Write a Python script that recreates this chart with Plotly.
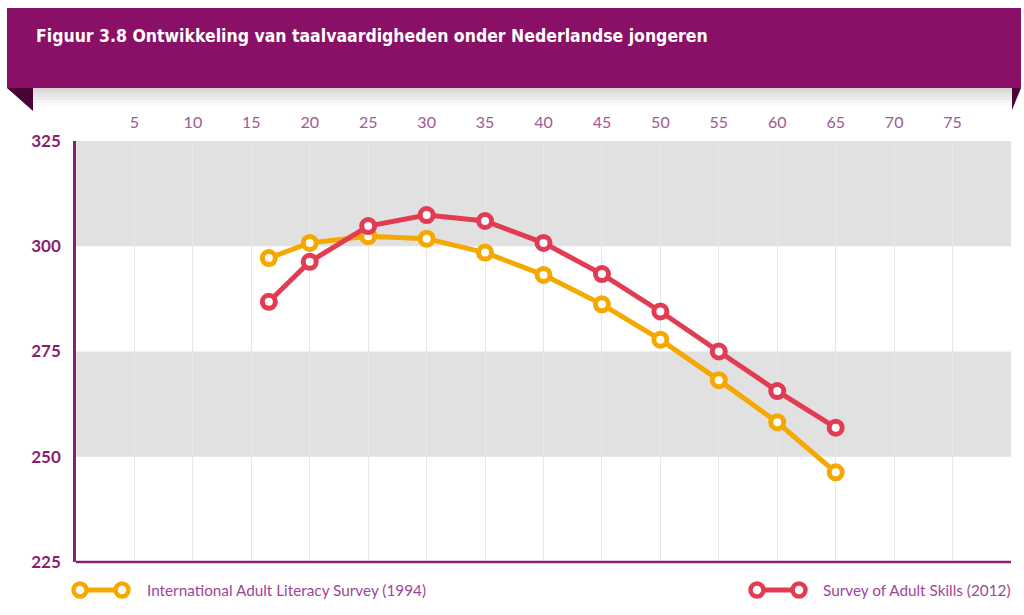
import plotly.graph_objects as go

# ---- data ----
ages = [16.5, 20, 25, 30, 35, 40, 45, 50, 55, 60, 65]
ials_1994 = [297.2, 300.8, 302.4, 301.8, 298.5, 293.2, 286.2, 277.8, 268.2, 258.2, 246.3]
piaac_2012 = [286.8, 296.3, 304.8, 307.4, 306.0, 300.8, 293.4, 284.5, 275.0, 265.6, 256.9]
series_names = ["International Adult Literacy Survey (1994)", "Survey of Adult Skills (2012)"]
x_ticks = [5, 10, 15, 20, 25, 30, 35, 40, 45, 50, 55, 60, 65, 70, 75]
y_ticks = [225, 250, 275, 300, 325]
bands = [(300, 325), (250, 275)]
title_text = "Figuur 3.8 Ontwikkeling van taalvaardigheden onder Nederlandse jongeren"

# ---- style ----
YELLOW = "#F4A800"
RED = "#E33B52"
PURPLE = "#8A0F66"
AXIS_PURPLE = "#8B1E6E"
FOLD = "#4A0536"
TICK_TOP = "#9E5A92"
LEGEND_TXT = "#A0449A"

W, H = 1024, 615
L, R, T, B = 76, 13, 141, 53
PW, PH = W - L - R, H - T - B


def px(x):
    return (x - L) / PW


def py(y):
    return (H - B - y) / PH


fig = go.Figure()
for name, vals, col in [(series_names[0], ials_1994, YELLOW), (series_names[1], piaac_2012, RED)]:
    fig.add_trace(go.Scatter(
        x=ages, y=vals, name=name, mode="lines+markers",
        line=dict(color=col, width=5),
        marker=dict(symbol="circle", size=13, color="white", line=dict(color=col, width=5)),
        showlegend=False, cliponaxis=False,
    ))

shapes = []
# grey bands
for lo, hi in bands:
    shapes.append(dict(type="rect", xref="paper", x0=0, x1=1, yref="y", y0=lo, y1=hi,
                       fillcolor="#E1E1E1", line=dict(width=0), layer="between"))
# bottom axis line
shapes.append(dict(type="line", xref="paper", x0=0, x1=1, yref="paper", y0=0, y1=0,
                   line=dict(color=AXIS_PURPLE, width=2.5)))
# banner shadow
for i, c in enumerate(["#D6D6D6", "#DEDEDE", "#E6E6E6", "#EDEDED", "#F4F4F4", "#F9F9F9"]):
    shapes.append(dict(type="rect", xref="paper", yref="paper",
                       x0=px(33), x1=px(1012), y0=py(88 + 3 * i), y1=py(88 + 3 * (i + 1)),
                       fillcolor=c, line=dict(width=0)))
# banner
shapes.append(dict(type="rect", xref="paper", yref="paper", x0=px(7), x1=px(1021),
                   y0=py(88), y1=py(8), fillcolor=PURPLE, line=dict(width=0)))
# folds
shapes.append(dict(type="path", xref="paper", yref="paper",
                   path=f"M {px(7)} {py(88)} L {px(33)} {py(88)} L {px(33)} {py(111)} Z",
                   fillcolor=FOLD, line=dict(width=0)))
shapes.append(dict(type="path", xref="paper", yref="paper",
                   path=f"M {px(1012)} {py(88)} L {px(1021)} {py(88)} L {px(1012)} {py(110)} Z",
                   fillcolor=FOLD, line=dict(width=0)))

# custom legend glyphs
leg_y = 590
for (xa, xb, col) in [(80, 122, YELLOW), (757, 799, RED)]:
    shapes.append(dict(type="line", xref="paper", yref="paper", x0=px(xa), x1=px(xb),
                       y0=py(leg_y), y1=py(leg_y), line=dict(color=col, width=5)))
    for xc in (xa, xb):
        shapes.append(dict(type="circle", xref="paper", yref="paper",
                           x0=px(xc - 6.5), x1=px(xc + 6.5), y0=py(leg_y + 6.5), y1=py(leg_y - 6.5),
                           fillcolor="white", line=dict(color=col, width=4.5)))

annotations = [
    dict(text=f"<b>{title_text}</b>", xref="paper", yref="paper", x=px(34), y=py(36),
         xanchor="left", yanchor="middle", showarrow=False,
         font=dict(family="DejaVu Sans Condensed, sans-serif", size=17.5, color="white")),
    dict(text=series_names[0], xref="paper", yref="paper", x=px(145), y=py(leg_y),
         xanchor="left", yanchor="middle", showarrow=False,
         font=dict(family="Lato, sans-serif", size=15.3, color=LEGEND_TXT)),
    dict(text=series_names[1], xref="paper", yref="paper", x=px(821), y=py(leg_y),
         xanchor="left", yanchor="middle", showarrow=False,
         font=dict(family="Lato, sans-serif", size=15.3, color=LEGEND_TXT)),
]

fig.update_layout(
    width=W, height=H,
    margin=dict(l=L, r=R, t=T, b=B, pad=0),
    paper_bgcolor="white", plot_bgcolor="white",
    shapes=shapes, annotations=annotations,
    xaxis=dict(range=[0, 80], side="top", tickvals=x_ticks, showgrid=True, gridcolor="#E8E8E8",
               gridwidth=1, zeroline=False, showline=False, ticks="outside", ticklen=6,
               tickcolor="rgba(0,0,0,0)", fixedrange=True,
               tickfont=dict(family="Lato, sans-serif", size=16, color=TICK_TOP)),
    yaxis=dict(range=[225, 325], tickvals=y_ticks, showgrid=False, zeroline=False,
               showline=True, linecolor=AXIS_PURPLE, linewidth=2.5, ticks="outside", ticklen=9,
               tickcolor="rgba(0,0,0,0)", fixedrange=True,
               tickfont=dict(family="Lato, sans-serif", size=17, color=AXIS_PURPLE, weight="bold")),
    showlegend=False,
)

fig.write_html(
    "out.html",
    config={"displayModeBar": False},
    post_script="document.body.style.margin='0';document.body.style.overflow='hidden';",
)
